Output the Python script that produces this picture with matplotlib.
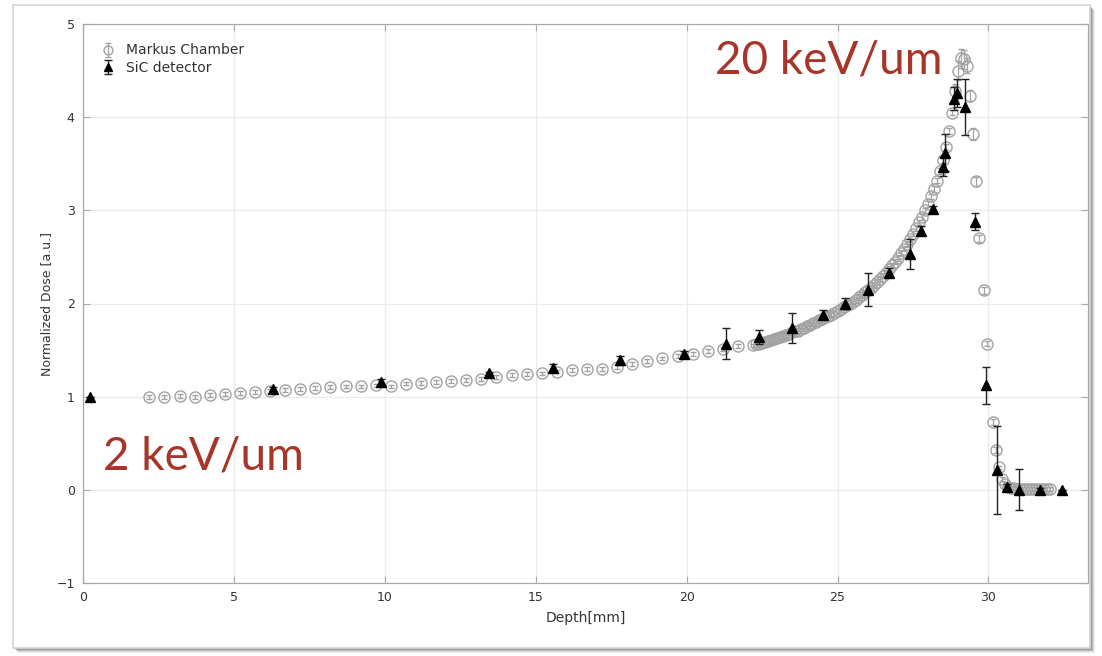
import matplotlib
matplotlib.use("Agg")
import matplotlib.pyplot as plt
from matplotlib.patches import Rectangle

# ---- Markus chamber: plateau (0.5 mm steps) ----
markus_plateau_x = [2.2, 2.7, 3.2, 3.7, 4.2, 4.7, 5.2, 5.7, 6.2, 6.7, 7.2, 7.7,
                    8.2, 8.7, 9.2, 9.7, 10.2, 10.7, 11.2, 11.7, 12.2, 12.7, 13.2,
                    13.7, 14.2, 14.7, 15.2, 15.7, 16.2, 16.7, 17.2, 17.7, 18.2,
                    18.7, 19.2, 19.7, 20.2, 20.7, 21.2, 21.7, 22.2]
markus_plateau_y = [1.00, 1.00, 1.01, 1.00, 1.02, 1.03, 1.04, 1.05, 1.06, 1.07,
                    1.08, 1.09, 1.10, 1.11, 1.11, 1.12, 1.11, 1.14, 1.15, 1.16,
                    1.17, 1.18, 1.19, 1.21, 1.23, 1.24, 1.25, 1.27, 1.29, 1.30,
                    1.30, 1.32, 1.35, 1.38, 1.41, 1.44, 1.46, 1.49, 1.51, 1.54,
                    1.55]
markus_plateau_err = 0.02

# ---- Markus chamber: build-up towards the Bragg peak (0.1 mm steps) ----
markus_rise_x = [22.3, 22.4, 22.5, 22.6, 22.7, 22.8, 22.9, 23.0, 23.1, 23.2, 23.3,
                 23.4, 23.5, 23.6, 23.7, 23.8, 23.9, 24.0, 24.1, 24.2, 24.3, 24.4,
                 24.5, 24.6, 24.7, 24.8, 24.9, 25.0, 25.1, 25.2, 25.3, 25.4, 25.5,
                 25.6, 25.7, 25.8, 25.9, 26.0, 26.1, 26.2, 26.3, 26.4, 26.5, 26.6,
                 26.7, 26.8, 26.9, 27.0, 27.1, 27.2, 27.3, 27.4, 27.5, 27.6, 27.7,
                 27.8, 27.9, 28.0, 28.1, 28.2, 28.3, 28.4, 28.5, 28.6, 28.7, 28.8]
markus_rise_y = [1.56, 1.57, 1.58, 1.59, 1.60, 1.61, 1.62, 1.63, 1.64, 1.65, 1.66,
                 1.67, 1.69, 1.70, 1.71, 1.73, 1.74, 1.76, 1.77, 1.79, 1.80, 1.82,
                 1.83, 1.85, 1.87, 1.88, 1.90, 1.92, 1.94, 1.96, 1.98, 2.00, 2.02,
                 2.04, 2.07, 2.09, 2.12, 2.14, 2.17, 2.20, 2.23, 2.26, 2.30, 2.33,
                 2.37, 2.41, 2.45, 2.49, 2.54, 2.59, 2.64, 2.69, 2.75, 2.81, 2.87,
                 2.93, 3.00, 3.07, 3.15, 3.23, 3.32, 3.42, 3.54, 3.68, 3.85, 4.05]
markus_rise_err = 0.03

# ---- Markus chamber: peak and distal fall-off ----
markus_peak_x = [28.9, 29.0, 29.1, 29.2, 29.3, 29.4, 29.5, 29.6, 29.7, 29.85,
                 29.95, 30.15, 30.25, 30.35, 30.45, 30.55, 30.65, 30.75, 30.85,
                 30.95, 31.05, 31.15, 31.25, 31.35, 31.45, 31.55, 31.65, 31.75,
                 31.85, 31.95, 32.05]
markus_peak_y = [4.28, 4.50, 4.63, 4.62, 4.55, 4.23, 3.82, 3.31, 2.70, 2.14,
                 1.57, 0.73, 0.43, 0.24, 0.12, 0.06, 0.03, 0.02, 0.02, 0.01,
                 0.01, 0.01, 0.01, 0.01, 0.01, 0.01, 0.01, 0.01, 0.01, 0.01, 0.01]
markus_peak_err = [0.08, 0.10, 0.10, 0.10, 0.08, 0.06, 0.06, 0.05, 0.04, 0.04,
                   0.03, 0.03, 0.03, 0.02, 0.02, 0.02, 0.02, 0.02, 0.02, 0.02,
                   0.02, 0.02, 0.02, 0.02, 0.02, 0.02, 0.02, 0.02, 0.02, 0.02, 0.02]

# ---- SiC detector ----
sic_x = [0.23, 6.3, 9.88, 13.46, 15.58, 17.8, 19.9, 21.3, 22.4, 23.5, 24.53,
         25.26, 26.0, 26.7, 27.41, 27.78, 28.17, 28.5, 28.57, 28.85, 28.95,
         29.23, 29.57, 29.93, 30.29, 30.63, 31.0, 31.72, 32.45]
sic_y = [1.00, 1.08, 1.16, 1.25, 1.31, 1.39, 1.46, 1.57, 1.64, 1.74, 1.88,
         2.00, 2.15, 2.33, 2.53, 2.78, 3.01, 3.47, 3.62, 4.20, 4.26,
         4.11, 2.88, 1.12, 0.21, 0.03, 0.00, 0.00, 0.00]
sic_err = [0.00, 0.02, 0.03, 0.02, 0.04, 0.05, 0.03, 0.17, 0.08, 0.16, 0.05,
           0.06, 0.18, 0.05, 0.16, 0.05, 0.04, 0.10, 0.20, 0.12, 0.15,
           0.30, 0.09, 0.20, 0.47, 0.03, 0.22, 0.02, 0.00]

x_ticks = [0, 5, 10, 15, 20, 25, 30]
y_ticks = [-1, 0, 1, 2, 3, 4, 5]
let_labels = ["2 keV/um", "20 keV/um"]

W, H = 1102, 656
fig = plt.figure(figsize=(W / 100, H / 100), dpi=100, facecolor="white")


def fx(px):
    return px / W


def fy(py):
    return 1 - py / H


# card with a soft drop shadow behind the plot
for off, a in [(5, 0.10), (4, 0.18), (3, 0.28), (2, 0.38)]:
    fig.patches.append(Rectangle((fx(13 + off), fy(648 + off)), fx(1077), 643 / H,
                                 transform=fig.transFigure, facecolor="#707070",
                                 edgecolor="none", alpha=a, zorder=0))
fig.patches.append(Rectangle((fx(13), fy(648)), fx(1077), 643 / H,
                             transform=fig.transFigure, facecolor="white",
                             edgecolor="#d4d4d4", linewidth=1.2, zorder=1))

ax = fig.add_axes([fx(83), fy(583), fx(1088 - 83), (583 - 24) / H], zorder=2)
ax.set_facecolor("white")

grey = "#a2a2a2"
common_m = dict(fmt="o", ms=8, mfc="none", mec=grey, mew=1.0, ecolor=grey,
                elinewidth=0.9, capsize=2.5, capthick=0.9, zorder=3)
h_markus = ax.errorbar(markus_plateau_x, markus_plateau_y, yerr=markus_plateau_err,
                       label="Markus Chamber", **common_m)
ax.errorbar(markus_rise_x, markus_rise_y, yerr=markus_rise_err, **common_m)
ax.errorbar(markus_peak_x, markus_peak_y, yerr=markus_peak_err, **common_m)

h_sic = ax.errorbar(sic_x, sic_y, yerr=sic_err, fmt="^", ms=7.5, color="black",
                    mfc="black", mec="black", ecolor="#222222", elinewidth=1.0,
                    capsize=3, capthick=1.0, label="SiC detector", zorder=4)

ax.set_xlim(0, 33.3)
ax.set_ylim(-1, 5)
ax.set_xticks(x_ticks)
ax.set_yticks(y_ticks)
ax.grid(True, color="#ebebeb", linewidth=0.9, zorder=0)
ax.set_axisbelow(True)
for s in ax.spines.values():
    s.set_color("#a8a8a8")
    s.set_linewidth(0.9)
ax.tick_params(direction="in", length=5, width=0.8, color="#a8a8a8",
               top=True, right=True, labelsize=9, labelcolor="#333333", pad=6)

ax.set_xlabel("Depth[mm]", fontsize=10, color="#333333", labelpad=5)
ax.set_ylabel("Normalized Dose [a.u.]", fontsize=9, color="#333333", labelpad=2)

leg = ax.legend(handles=[h_markus, h_sic], loc="upper left", frameon=False,
                fontsize=10, handlelength=0.8, handletextpad=0.9,
                borderaxespad=0.4, labelspacing=0.25, markerscale=0.8,
                bbox_to_anchor=(0.008, 0.985))
for t in leg.get_texts():
    t.set_color("#333333")

red = "#a8352a"
fig.text(fx(103), fy(469), let_labels[0], fontsize=33, family="Lato",
         weight="normal", color=red, ha="left", va="baseline", zorder=5)
fig.text(fx(715), fy(73), let_labels[1], fontsize=33, family="Lato",
         weight="normal", color=red, ha="left", va="baseline", zorder=5)

fig.savefig("out.png", dpi=100, facecolor="white")
